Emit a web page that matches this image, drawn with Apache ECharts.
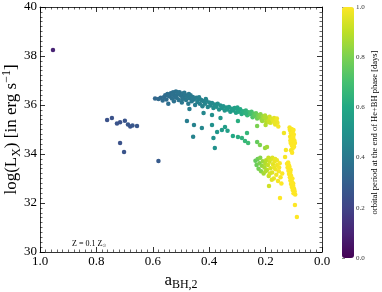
<!DOCTYPE html>
<html><head><meta charset="utf-8">
<script src="https://cdn.jsdelivr.net/npm/echarts@6/dist/echarts.min.js"></script>
<style>html,body{margin:0;padding:0;background:#fff}#c{width:382px;height:292px}</style>
</head><body><div id="c"></div>
<script>
// [a_BH,2, log(Lx), orbital period (days)]
const outliers = [[0.954,38.24,0.10],[0.762,35.39,0.25],[0.745,35.47,0.25],[0.727,35.24,0.26],[0.716,35.30,0.25],[0.699,35.36,0.26],[0.688,35.20,0.27],[0.680,35.12,0.26],[0.672,35.16,0.27],[0.656,35.14,0.27],[0.716,34.45,0.25],[0.702,34.08,0.26],[0.580,33.71,0.28]];
const mainBand = [[0.592,36.27,0.33],[0.580,36.25,0.34],[0.572,36.30,0.34],[0.565,36.18,0.35],[0.560,36.33,0.35],[0.556,36.40,0.35],[0.552,36.22,0.35],[0.548,36.45,0.36],[0.545,36.05,0.36],[0.540,36.35,0.36],[0.536,36.48,0.36],[0.532,36.27,0.37],[0.528,36.52,0.37],[0.525,36.15,0.37],[0.522,36.40,0.37],[0.518,36.55,0.37],[0.515,36.30,0.38],[0.511,36.45,0.38],[0.508,36.20,0.38],[0.505,36.52,0.38],[0.500,36.38,0.38],[0.497,36.10,0.39],[0.494,36.47,0.39],[0.490,36.30,0.39],[0.486,36.42,0.39],[0.482,36.20,0.40],[0.478,36.36,0.40],[0.474,36.05,0.40],[0.470,36.28,0.40],[0.466,36.40,0.41],[0.462,36.15,0.41],[0.458,36.33,0.41],[0.454,36.22,0.42],[0.450,36.00,0.42],[0.446,36.30,0.42],[0.442,36.12,0.43],[0.438,36.25,0.43],[0.433,36.05,0.43],[0.428,36.20,0.44],[0.424,35.95,0.44],[0.420,36.15,0.44],[0.415,36.05,0.45],[0.410,36.18,0.45],[0.405,35.92,0.46],[0.400,36.10,0.46],[0.395,35.98,0.47],[0.390,36.08,0.47],[0.385,35.88,0.48],[0.380,36.02,0.48],[0.375,35.93,0.49],[0.370,36.05,0.49],[0.365,35.82,0.50],[0.360,35.98,0.50],[0.355,35.88,0.51],[0.350,35.95,0.51],[0.345,35.78,0.52],[0.340,35.90,0.52],[0.335,35.82,0.53],[0.330,35.92,0.53],[0.325,35.72,0.54],[0.320,35.85,0.55],[0.315,35.78,0.55],[0.310,35.88,0.56],[0.305,35.68,0.57],[0.300,35.80,0.58],[0.295,35.72,0.59],[0.290,35.83,0.60],[0.285,35.63,0.61],[0.280,35.75,0.62],[0.275,35.68,0.63],[0.270,35.78,0.64],[0.265,35.58,0.66],[0.260,35.70,0.67],[0.255,35.62,0.69],[0.250,35.72,0.70],[0.246,35.50,0.72],[0.242,35.64,0.73],[0.238,35.56,0.75],[0.234,35.66,0.76],[0.230,35.45,0.78],[0.226,35.58,0.79],[0.222,35.50,0.81],[0.218,35.62,0.82],[0.214,35.40,0.84],[0.210,35.53,0.85],[0.206,35.45,0.87],[0.202,35.57,0.88],[0.198,35.32,0.89],[0.194,35.48,0.90],[0.190,35.40,0.92],[0.186,35.52,0.93],[0.182,35.28,0.94],[0.178,35.43,0.95],[0.174,35.35,0.96],[0.170,35.47,0.96],[0.166,35.20,0.97],[0.162,35.38,0.98],[0.158,35.28,0.98],[0.155,35.12,0.99],[0.545,36.38,0.36],[0.530,36.42,0.37],[0.520,36.33,0.37],[0.512,36.52,0.38],[0.495,36.25,0.39],[0.488,36.50,0.39],[0.472,36.45,0.40],[0.460,36.25,0.41],[0.436,36.32,0.43],[0.412,36.25,0.45],[0.300,35.90,0.58],[0.270,35.65,0.64],[0.212,35.35,0.85],[0.200,35.48,0.88],[0.188,35.30,0.92],[0.168,35.30,0.97],[0.160,35.45,0.98]];
const middleScatter = [[0.479,35.35,0.42],[0.454,35.18,0.44],[0.426,35.06,0.46],[0.457,34.70,0.44],[0.390,35.18,0.50],[0.385,34.65,0.50],[0.380,34.24,0.50],[0.372,34.90,0.52],[0.355,34.98,0.54],[0.344,35.10,0.55],[0.335,34.95,0.56],[0.316,34.73,0.60],[0.298,34.69,0.62],[0.284,34.65,0.64],[0.266,34.86,0.66],[0.273,34.53,0.66],[0.262,34.45,0.68],[0.230,34.49,0.76],[0.220,34.37,0.80],[0.202,34.24,0.84],[0.195,34.29,0.86],[0.470,35.84,0.42],[0.420,35.67,0.46],[0.390,35.59,0.49],[0.298,35.35,0.62],[0.230,35.14,0.80],[0.200,35.18,0.88],[0.360,35.47,0.52]];
const upperStrip = [[0.115,35.08,0.99],[0.108,35.02,1.0],[0.112,34.95,0.99],[0.104,34.90,1.0],[0.110,34.85,1.0],[0.100,34.80,1.0],[0.107,34.75,1.0],[0.113,34.70,0.99],[0.102,34.66,1.0],[0.109,34.60,1.0],[0.098,34.55,1.0],[0.105,34.50,1.0],[0.111,34.45,1.0],[0.101,34.40,1.0],[0.107,34.35,1.0],[0.099,34.30,1.0],[0.104,34.22,1.0],[0.110,34.15,0.99],[0.106,34.05,1.0],[0.114,34.99,0.99],[0.101,34.98,1.0],[0.103,34.72,1.0],[0.112,34.55,1.0],[0.096,34.45,1.0],[0.135,34.86,0.98],[0.128,34.16,0.99],[0.131,33.88,0.99]];
const lowerCluster = [[0.236,33.72,0.76],[0.232,33.55,0.77],[0.228,33.80,0.78],[0.225,33.40,0.79],[0.222,33.62,0.80],[0.219,33.85,0.81],[0.216,33.30,0.82],[0.213,33.52,0.84],[0.210,33.70,0.85],[0.207,33.20,0.86],[0.204,33.45,0.87],[0.201,33.60,0.88],[0.198,33.75,0.89],[0.195,33.35,0.90],[0.192,33.55,0.91],[0.189,33.10,0.92],[0.186,33.68,0.93],[0.183,33.42,0.94],[0.180,33.80,0.95],[0.177,33.25,0.95],[0.174,33.58,0.96],[0.171,33.00,0.97],[0.168,33.70,0.97],[0.165,33.38,0.98],[0.162,33.15,0.98],[0.159,33.55,0.98],[0.156,32.90,0.99],[0.153,33.30,0.99],[0.150,33.62,0.99],[0.147,33.05,0.99],[0.144,32.80,1.0],[0.141,33.20,1.0],[0.176,33.85,0.95],[0.190,33.85,0.92],[0.170,33.45,0.97],[0.185,33.20,0.94],[0.160,33.75,0.98],[0.200,33.30,0.88],[0.178,32.95,0.96],[0.166,33.80,0.97],[0.152,33.45,0.99],[0.188,32.69,0.93],[0.149,32.20,1.0]];
const lowerScatter = [[0.450,33.71,0.45],[0.450,33.47,0.45],[0.400,33.59,0.50],[0.369,33.51,0.53],[0.337,33.27,0.57],[0.316,33.31,0.60],[0.294,33.67,0.62],[0.290,33.38,0.63],[0.282,33.50,0.65],[0.270,33.10,0.67],[0.259,33.55,0.70],[0.250,33.60,0.72],[0.244,33.45,0.73],[0.240,33.28,0.74],[0.223,33.06,0.79],[0.213,32.94,0.83]];
const lowerStrip = [[0.120,33.65,1.0],[0.118,33.55,1.0],[0.122,33.45,1.0],[0.115,33.40,1.0],[0.119,33.32,1.0],[0.113,33.25,1.0],[0.117,33.18,1.0],[0.110,33.12,1.0],[0.114,33.05,1.0],[0.108,32.98,1.0],[0.112,32.92,1.0],[0.106,32.85,1.0],[0.110,32.78,1.0],[0.103,32.72,1.0],[0.107,32.65,1.0],[0.100,32.60,1.0],[0.104,32.53,1.0],[0.097,32.47,1.0],[0.101,32.40,1.0],[0.095,32.35,1.0],[0.116,33.50,1.0],[0.111,33.35,1.0],[0.105,33.00,1.0],[0.102,32.80,1.0],[0.099,32.55,1.0],[0.096,31.92,1.0],[0.089,31.43,1.0],[0.124,33.60,1.0]];
const groups = [outliers, mainBand, middleScatter, upperStrip, lowerCluster, lowerStrip];
const viridis = ['#440154','#482475','#414487','#355f8d','#2a788e','#21918c','#22a884','#44bf70','#7ad151','#bddf26','#fde725'];

const FONT = 'Liberation Serif';
const chart = echarts.init(document.getElementById('c'), null, {renderer:'canvas'});
const axisCommon = {
  type:'value', splitLine:{show:false},
  axisLine:{show:true, onZero:false, lineStyle:{color:'#000', width:0.8}},
  axisTick:{show:true, inside:true, length:5, lineStyle:{color:'#000', width:0.8}},
  minorTick:{show:true, splitNumber:10, length:2.5, lineStyle:{color:'#000', width:0.6}}
};
const tickLbl = {color:'#000', fontFamily:FONT, fontSize:13};
chart.setOption({
  animation:false,
  grid:[{left:40, right:60, top:7, bottom:40, containLabel:false, outerBoundsMode:'none'},
        {left:342, top:7, width:12, height:251, containLabel:false, outerBoundsMode:'none'}],
  xAxis:[
    Object.assign({}, axisCommon, {gridIndex:0, position:'bottom', min:0, max:1, interval:0.2, inverse:true,
      axisLabel:Object.assign({margin:3, formatter:v=>v.toFixed(1)}, tickLbl),
      name:'{n|a}{s|BH,2}', nameLocation:'middle', nameGap:19, nameMoveOverlap:false,
      nameTextStyle:{rich:{n:{fontFamily:FONT, fontSize:17, color:'#000', lineHeight:20}, s:{fontFamily:FONT, fontSize:12, color:'#000', verticalAlign:'bottom', lineHeight:20}}}}),
    Object.assign({}, axisCommon, {gridIndex:0, position:'top', min:0, max:1, interval:0.2, inverse:true, axisLabel:{show:false}}),
    {gridIndex:1, type:'value', min:0, max:1, show:false}
  ],
  yAxis:[
    Object.assign({}, axisCommon, {gridIndex:0, position:'left', min:30, max:40, interval:2,
      axisLabel:Object.assign({margin:3}, tickLbl),
      name:'{n|log(L}{s|X}{n|) [in erg s}{p|−1}{n|]}', nameLocation:'middle', nameGap:17, nameRotate:90, nameMoveOverlap:false,
      nameTextStyle:{rich:{n:{fontFamily:FONT, fontSize:17, color:'#000', lineHeight:22}, s:{fontFamily:FONT, fontSize:12, color:'#000', verticalAlign:'bottom', lineHeight:22}, p:{fontFamily:FONT, fontSize:12, color:'#000', verticalAlign:'top', lineHeight:22}}}}),
    Object.assign({}, axisCommon, {gridIndex:0, position:'right', min:30, max:40, interval:2, axisLabel:{show:false}}),
    {gridIndex:1, type:'value', position:'right', min:0, max:1, interval:0.2,
      axisLine:{show:false}, splitLine:{show:false},
      axisTick:{show:true, inside:false, length:3, lineStyle:{color:'#333', width:0.6}},
      axisLabel:{color:'#333', fontFamily:FONT, fontSize:7, margin:2, formatter:v=>v.toFixed(1)},
      name:'orbital period at the end of He+BH phase [days]', nameLocation:'middle', nameGap:16, nameRotate:90, nameMoveOverlap:false,
      nameTextStyle:{color:'#000', fontFamily:FONT, fontSize:8.5}}
  ],
  visualMap:{type:'continuous', min:0, max:1, dimension:2, seriesIndex:[0,1,2,3,4,5],
    left:342, top:7, itemWidth:12, itemHeight:251, padding:0, calculable:false, text:null,
    showLabel:false, inRange:{color:viridis}, hoverLink:false},
  graphic:[{type:'text', left:72, top:240,
    style:{text:'{a|Z = 0.1 Z}{b|⊙}', rich:{a:{fontFamily:FONT, fontSize:8, fill:'#000'}, b:{fontFamily:'DejaVu Sans', fontSize:5, fill:'#666', verticalAlign:'bottom', padding:[3,0,0,0]}}}}],
  series: groups.map(g => ({type:'scatter', xAxisIndex:0, yAxisIndex:0, symbolSize:4.5, data:g, itemStyle:{opacity:1}}))
});
</script></body></html>
